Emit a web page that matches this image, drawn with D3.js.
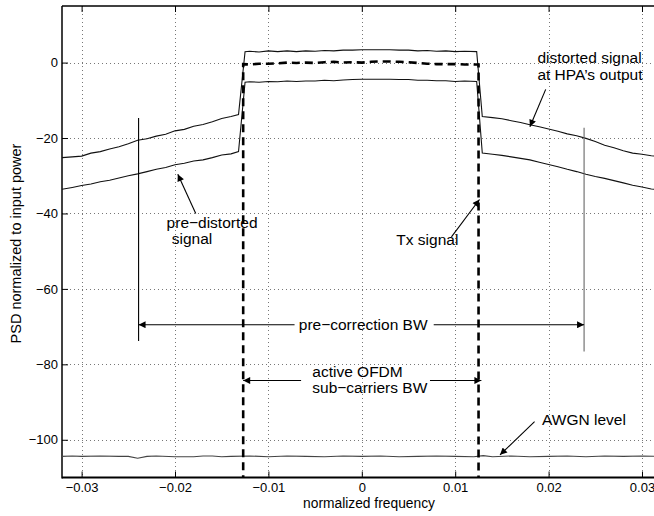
<!DOCTYPE html>
<html><head><meta charset="utf-8">
<script src="https://cdn.jsdelivr.net/npm/d3@7"></script>
<style>body{margin:0;background:#fff}svg{display:block}text{font-family:"Liberation Sans",Arial,Helvetica,sans-serif;fill:#000}</style>
</head><body>
<script>
// ---------- data ----------
const xTicks = [-0.03, -0.02, -0.01, 0, 0.01, 0.02, 0.03];
const xTickLabels = ["\u22120.03", "\u22120.02", "\u22120.01", "0", "0.01", "0.02", "0.03"];
const yTicks = [-100, -80, -60, -40, -20, 0];
const yTickLabels = ["\u2212100", "\u221280", "\u221260", "\u221240", "\u221220", "0"];

// distorted signal at HPA output (upper solid)
const distortedFreq = [-0.0321,-0.031,-0.030,-0.029,-0.028,-0.027,-0.026,-0.025,-0.024,-0.023,-0.022,-0.021,-0.020,-0.019,-0.018,-0.017,-0.016,-0.015,-0.014,-0.0132,
  -0.0125,-0.012,-0.011,-0.010,-0.009,-0.008,-0.007,-0.006,-0.005,-0.004,-0.003,-0.002,-0.001,0,0.001,0.002,0.003,0.004,0.005,0.006,0.007,0.008,0.009,0.010,0.011,0.0123,
  0.0129,0.014,0.015,0.016,0.017,0.018,0.019,0.020,0.021,0.022,0.023,0.024,0.025,0.026,0.027,0.028,0.029,0.030,0.031,0.0325];
const distortedPSD = [-25.2,-25.0,-24.8,-24.0,-23.6,-22.9,-22.3,-21.5,-20.6,-20.2,-19.5,-19.0,-18.1,-17.7,-16.9,-16.4,-15.7,-14.8,-14.3,-13.8,
  2.9,3.0,2.8,3.1,2.9,3.1,2.9,3.1,3.0,3.2,3.1,3.3,3.3,3.4,3.4,3.4,3.4,3.3,3.3,3.1,3.2,3.0,3.1,2.9,3.0,2.9,
  -14.3,-14.6,-14.9,-15.4,-15.9,-16.5,-17.0,-17.6,-18.2,-18.9,-19.4,-20.1,-20.9,-21.9,-22.6,-23.4,-24.0,-24.3,-24.7,-25.0];

// pre-distorted signal (lower solid)
const predistFreq = distortedFreq;
const predistPSD = [-33.6,-33.1,-32.6,-32.2,-31.6,-31.2,-30.6,-30.0,-29.5,-28.9,-28.3,-27.8,-27.1,-26.7,-26.1,-25.8,-25.2,-24.5,-24.2,-23.6,
  -5.2,-5.1,-5.2,-5.0,-5.1,-4.9,-5.0,-4.9,-4.9,-4.7,-4.8,-4.6,-4.5,-4.4,-4.4,-4.4,-4.4,-4.5,-4.5,-4.7,-4.7,-4.8,-4.8,-5.0,-4.9,-5.0,
  -24.0,-24.3,-24.6,-25.0,-25.4,-25.8,-26.4,-27.0,-27.6,-28.3,-28.9,-29.6,-30.2,-30.7,-31.3,-31.9,-32.5,-33.0,-33.5,-33.9];

// Tx signal (dashed)
const txFreq = [-0.0127,-0.0127,-0.012,-0.011,-0.010,-0.009,-0.008,-0.007,-0.006,-0.005,-0.004,-0.003,-0.002,-0.001,0,0.001,0.002,0.003,0.004,0.005,0.006,0.007,0.008,0.009,0.010,0.011,0.0125,0.0125];
const txPSD = [-115,-0.4,-0.5,-0.3,-0.3,-0.2,0.0,-0.1,0.0,-0.1,0.1,0.2,0.0,0.1,0.0,0.2,0.3,0.3,0.2,0.1,-0.1,-0.3,-0.4,-0.4,-0.4,-0.5,-0.5,-115];

// AWGN level
const awgnFreq = [-0.0321,-0.031,-0.030,-0.028,-0.026,-0.025,-0.024,-0.023,-0.022,-0.020,-0.018,-0.017,-0.016,-0.015,-0.014,-0.012,-0.010,-0.008,-0.006,-0.004,-0.002,0,0.002,0.004,0.006,0.008,0.010,0.012,0.013,0.014,0.016,0.018,0.020,0.022,0.024,0.026,0.028,0.030,0.0325];
const awgnPSD = [-104.4,-104.3,-104.4,-104.3,-104.4,-104.4,-104.9,-104.4,-104.3,-104.5,-104.5,-104.3,-104.3,-104.5,-104.4,-104.3,-104.5,-104.3,-104.4,-104.5,-104.3,-104.4,-104.3,-104.5,-104.4,-104.3,-104.4,-104.5,-104.2,-104.5,-104.3,-104.5,-104.4,-104.3,-104.5,-104.3,-104.4,-104.3,-104.4];

// annotations (data units)
const bwLinesF = [-0.0239, 0.0238];
const bwLinesTop = [-14.7, -17.3];
const bwLinesBottom = [-73.8, -76.6];

// ---------- layout ----------
const W = 654, H = 516;
const x = d3.scaleLinear().domain([-0.0321, 0.0321]).range([62, 661.6]);
const y = d3.scaleLinear().domain([-110, 15]).range([477.5, 6]);
const X0 = x.range()[0], X1 = x.range()[1], Y0 = y.range()[1], Y1 = y.range()[0];
const ANN_FONT = 15.5;

const svg = d3.select("body").append("svg").attr("width", W).attr("height", H);
const defs = svg.append("defs");
defs.append("clipPath").attr("id", "clip").append("rect")
  .attr("x", X0).attr("y", Y0).attr("width", X1 - X0).attr("height", Y1 - Y0);
defs.append("marker").attr("id", "ah").attr("viewBox", "0 0 10 10").attr("refX", 10).attr("refY", 5)
  .attr("markerWidth", 10).attr("markerHeight", 7).attr("markerUnits", "userSpaceOnUse")
  .attr("orient", "auto").append("path").attr("d", "M0,0 L10,5 L0,10 z").attr("fill", "#000");

svg.append("rect").attr("width", W).attr("height", H).attr("fill", "#fff");

// grid
const grid = svg.append("g").attr("stroke", "#777").attr("stroke-width", 1).attr("stroke-dasharray", "1,3");
grid.selectAll("line.v").data(xTicks).join("line").attr("class", "v")
  .attr("x1", d => Math.round(x(d)) + 0.5).attr("x2", d => Math.round(x(d)) + 0.5).attr("y1", Y0).attr("y2", Y1);
grid.selectAll("line.h").data(yTicks).join("line").attr("class", "h")
  .attr("y1", d => Math.round(y(d)) + 0.5).attr("y2", d => Math.round(y(d)) + 0.5).attr("x1", X0).attr("x2", X1);

// axes
const gBottom = svg.append("g").attr("transform", `translate(0,${Y1})`)
  .call(d3.axisBottom(x).tickValues(xTicks).tickFormat((d, i) => xTickLabels[i]).tickSize(-6).tickPadding(5));
const gTop = svg.append("g").attr("transform", `translate(0,${Y0})`)
  .call(d3.axisTop(x).tickValues(xTicks).tickFormat("").tickSize(-6));
const gLeft = svg.append("g").attr("transform", `translate(${X0},0)`)
  .call(d3.axisLeft(y).tickValues(yTicks).tickFormat((d, i) => yTickLabels[i]).tickSize(-6).tickPadding(4));
[gBottom, gTop, gLeft].forEach(g => {
  g.select(".domain").remove();
  g.selectAll("line").attr("stroke", "#000").attr("stroke-width", 1);
  g.selectAll("text").attr("font-size", 13).attr("font-family", "Liberation Sans, Arial, sans-serif");
});
svg.append("line").attr("x1", X0).attr("x2", X1).attr("y1", Y1).attr("y2", Y1).attr("stroke", "#000").attr("stroke-width", 2);
svg.append("line").attr("x1", X0).attr("x2", X1).attr("y1", Y0).attr("y2", Y0).attr("stroke", "#000").attr("stroke-width", 1.5);
svg.append("line").attr("x1", X0).attr("x2", X0).attr("y1", Y0).attr("y2", Y1 + 1).attr("stroke", "#000").attr("stroke-width", 1.5);

// curves
const plot = svg.append("g").attr("clip-path", "url(#clip)");
const line = d3.line().x(d => x(d[0])).y(d => y(d[1]));
const zip = (a, b) => a.map((v, i) => [v, b[i]]);
plot.append("path").attr("d", line(zip(awgnFreq, awgnPSD))).attr("fill", "none").attr("stroke", "#444").attr("stroke-width", 1.1);
plot.append("path").attr("d", line(zip(distortedFreq, distortedPSD))).attr("fill", "none").attr("stroke", "#111").attr("stroke-width", 1.1);
plot.append("path").attr("d", line(zip(predistFreq, predistPSD))).attr("fill", "none").attr("stroke", "#111").attr("stroke-width", 1.1);
plot.append("path").attr("d", line(zip(txFreq, txPSD))).attr("fill", "none").attr("stroke", "#000").attr("stroke-width", 2.6).attr("stroke-dasharray", "8,5");

// annotation helpers
const ann = svg.append("g");
function seg(f1, v1, f2, v2, arrow, color) {
  const l = ann.append("line").attr("x1", x(f1)).attr("y1", y(v1)).attr("x2", x(f2)).attr("y2", y(v2))
    .attr("stroke", color || "#000").attr("stroke-width", 1.1);
  if (arrow) l.attr("marker-end", "url(#ah)");
}
function label(f, v, s, anchor) {
  ann.append("text").attr("x", x(f)).attr("y", y(v)).attr("font-size", ANN_FONT)
    .attr("text-anchor", anchor || "start").text(s);
}

// pre-correction BW
seg(bwLinesF[0], bwLinesTop[0], bwLinesF[0], bwLinesBottom[0], false, "#000");
seg(bwLinesF[1], bwLinesTop[1], bwLinesF[1], bwLinesBottom[1], false, "#666");
seg(-0.0072, -69.5, bwLinesF[0], -69.5, true);
seg(0.0077, -69.5, bwLinesF[1], -69.5, true);
label(0.00015, -70.9, "pre\u2212correction BW", "middle");

// active OFDM sub-carriers BW
seg(-0.0065, -84.3, -0.0127, -84.3, true);
seg(0.0073, -84.3, 0.0128, -84.3, true);
label(-0.0053, -83.3, "active OFDM");
label(-0.0053, -87.7, "sub\u2212carriers BW");

// distorted signal
label(0.0188, -0.1, "distorted signal");
label(0.0188, -4.6, "at HPA\u2019s output");
seg(0.01969, -7.1, 0.0180, -17.0, true);

// pre-distorted
label(-0.0209, -43.9, "pre\u2212distorted");
label(-0.02035, -48.1, "signal");
seg(-0.01778, -40.0, -0.0197, -29.6, true);

// Tx signal
label(0.0037, -48.4, "Tx signal");
seg(0.0096, -46.2, 0.0126, -36.3, true);

// AWGN
label(0.0193, -96.1, "AWGN level");
seg(0.0185, -95.2, 0.0148, -104.0, true);

// axis titles
svg.append("text").attr("x", 369).attr("y", 508).attr("font-size", 13.8).attr("text-anchor", "middle").text("normalized frequency");
svg.append("text").attr("transform", "translate(20.5,243.5) rotate(-90)").attr("font-size", 14.5).attr("text-anchor", "middle").text("PSD normalized to input power");
</script>
</body></html>
